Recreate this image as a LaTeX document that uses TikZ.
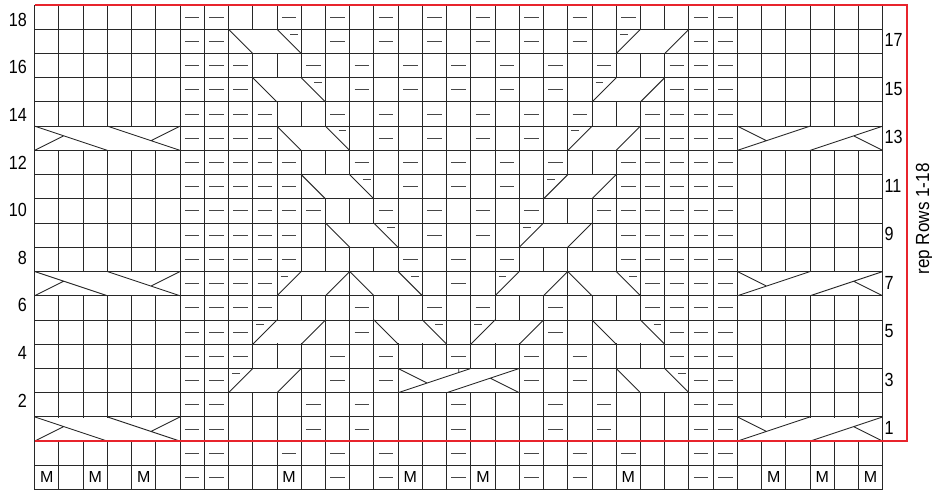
\documentclass[tikz,border=0pt]{standalone}
\usepackage{fontspec}
\setmainfont{Liberation Sans}
\definecolor{chartred}{RGB}{232,36,44}
\definecolor{gridcol}{RGB}{40,40,40}
\tikzset{
  gridln/.style={draw=gridcol, line width=0.9pt},
  purlln/.style={draw=black!72, line width=1pt},
  redln/.style={draw=chartred, line width=1.5pt},
  numlab/.style={inner sep=0pt, font=\fontsize{19}{19}\selectfont},
  mlab/.style={inner sep=0pt, font=\fontsize{16}{16}\selectfont}
}
% 3-stitch cable, "\" type, purl dash top right
\newcommand\cabB[2]{%
  \fill[white] (#2-0.97,18.03-#1) rectangle (#2+1.97,18.97-#1);
  \draw[gridln] (#2-1,18-#1) -- (#2,19-#1) (#2+1,18-#1) -- (#2+2,19-#1);
  \draw[purlln] (#2+1.54,18.2-#1) -- (#2+1.86,18.2-#1);}
% 3-stitch cable, "/" type, purl dash top left
\newcommand\cabF[2]{%
  \fill[white] (#2-0.97,18.03-#1) rectangle (#2+1.97,18.97-#1);
  \draw[gridln] (#2-1,19-#1) -- (#2,18-#1) (#2+1,19-#1) -- (#2+2,18-#1);
  \draw[purlln] (#2-0.85,18.2-#1) -- (#2-0.53,18.2-#1);}
% 6-stitch cables
\newcommand\cabSixL[1]{%
  \fill[white] (0.03,18.03-#1) rectangle (5.97,18.97-#1);
  \draw[gridln] (0,18-#1) -- (3,19-#1) (3,18-#1) -- (6,19-#1)
    (0,19-#1) -- (1.2,18.4-#1) (6,18-#1) -- (4.8,18.6-#1);}
\newcommand\cabSixR[1]{%
  \fill[white] (29.03,18.03-#1) rectangle (34.97,18.97-#1);
  \draw[gridln] (29,19-#1) -- (32,18-#1) (32,19-#1) -- (35,18-#1)
    (29,18-#1) -- (30.2,18.6-#1) (35,19-#1) -- (33.8,18.4-#1);}
\begin{document}
\begin{tikzpicture}[x=1pt,y=1pt]
\useasboundingbox (0,0) rectangle (932,-493);
\fill[white] (0,0) rectangle (932,-493);
\begin{scope}[shift={(34.7,-5)}, x=24.23pt, y=-24.23pt]
  % grid
  \foreach \j in {0,...,20} \draw[gridln] (0,\j) -- (35,\j);
  \foreach \i in {0,...,35} \draw[gridln] (\i,0) -- (\i,20);
  % cables
  \cabSixL{13}\cabSixL{7}\cabSixL{1}
  \cabSixR{13}\cabSixR{7}\cabSixR{1}
  \cabB{17}{9}\cabF{17}{25}
  \cabB{15}{10}\cabF{15}{24}
  \cabB{13}{11}\cabF{13}{23}
  \cabB{11}{12}\cabF{11}{22}
  \cabB{9}{13}\cabF{9}{21}
  \cabF{7}{11}\cabB{7}{14}\cabF{7}{20}\cabB{7}{23}
  \cabF{5}{10}\cabB{5}{15}\cabF{5}{19}\cabB{5}{24}
  \cabF{3}{9}\cabB{3}{25}
  % central 5-stitch cable, row 3
  \fill[white] (15.03,15.03) rectangle (19.97,15.97);
  \draw[gridln] (15,16) -- (18,15) (17,16) -- (20,15)
    (15,15) -- (16.2,15.6) (20,16) -- (18.8,15.4) (17.5,15) -- (17.5,15.1667);
  % purl dashes
  \foreach \r/\cl in {
    18/{7,8,11,13,15,17,19,21,23,25,28,29},
    17/{7,8,13,15,17,19,21,23,28,29},
    16/{7,8,9,12,14,16,18,20,22,24,27,28,29},
    15/{7,8,9,14,16,18,20,22,27,28,29},
    14/{7,8,9,10,13,15,17,19,21,23,26,27,28,29},
    13/{7,8,9,10,15,17,19,21,26,27,28,29},
    12/{7,8,9,10,11,14,16,18,20,22,25,26,27,28,29},
    11/{7,8,9,10,11,16,18,20,25,26,27,28,29},
    10/{7,8,9,10,11,12,15,17,19,21,24,25,26,27,28,29},
    9/{7,8,9,10,11,17,19,25,26,27,28,29},
    8/{7,8,9,10,11,16,18,20,25,26,27,28,29},
    7/{7,8,9,10,18,26,27,28,29},
    6/{7,8,9,10,14,17,19,22,26,27,28,29},
    5/{7,8,9,14,22,27,28,29},
    4/{7,8,9,13,15,18,21,23,27,28,29},
    3/{7,8,13,15,21,23,28,29},
    2/{7,8,12,14,18,22,24,28,29},
    1/{7,8,12,14,18,22,24,28,29},
    0/{7,8,11,13,15,18,21,23,25,28,29},
    -1/{7,8,13,15,18,21,23,28,29}}{
    \foreach \c in \cl {
      \draw[purlln] (\c-0.8,18.5-\r) -- (\c-0.2,18.5-\r);
    }
  }
  % M cells
  \foreach \c in {1,3,5,11,16,19,25,31,33,35}
    \node[mlab] (m\c) at (\c-0.5,19.5) {M};
  % red frame
  \draw[redln] (0,0) -- (36,0) -- (36,18) -- (0,18);
\end{scope}
% left row numbers
\foreach \n [count=\k from 0] in {18,16,14,12,10,8,6,4,2}
  \node[numlab, anchor=east] (l\n) at (27,-19.7-\k*47.6) {\scalebox{0.85}[1]{\n}};
% right row numbers
\foreach \n in {17,15,13,11,9,7,5,3,1}
  \node[numlab, anchor=west] (r\n) at (884.5,-5-18*24.23+\n*24.23-11.1) {\scalebox{0.85}[1]{\n}};
\node[numlab, rotate=90, anchor=base] (rep) at (929,-219) {\scalebox{0.9}[1]{rep Rows 1-18}};
\end{tikzpicture}
\end{document}
